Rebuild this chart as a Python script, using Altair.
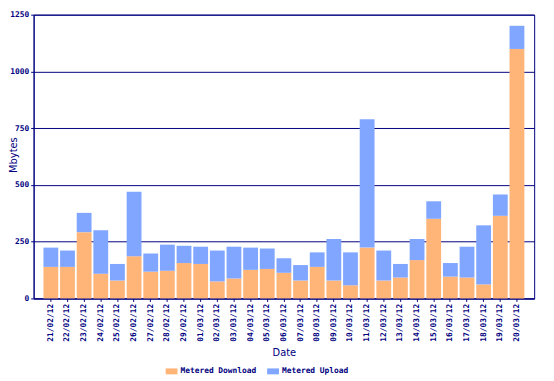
import altair as alt
import pandas as pd

dates = ["21/02/12", "22/02/12", "23/02/12", "24/02/12", "25/02/12", "26/02/12",
         "27/02/12", "28/02/12", "29/02/12", "01/03/12", "02/03/12", "03/03/12",
         "04/03/12", "05/03/12", "06/03/12", "07/03/12", "08/03/12", "09/03/12",
         "10/03/12", "11/03/12", "12/03/12", "13/03/12", "14/03/12", "15/03/12",
         "16/03/12", "17/03/12", "18/03/12", "19/03/12", "20/03/12"]
download = [139, 139, 292, 109, 79, 186, 118, 122, 156, 152, 75, 88, 126, 130, 113,
            79, 139, 79, 58, 224, 79, 92, 169, 351, 96, 92, 62, 364, 1099]
upload = [85, 72, 85, 191, 73, 284, 80, 115, 76, 76, 136, 140, 98, 90, 64,
          68, 64, 183, 145, 565, 132, 60, 93, 77, 60, 136, 260, 94, 102]
series = ["Metered Download", "Metered Upload"]
colors = ["#FFB478", "#80A6FF"]
y_ticks = [0, 250, 500, 750, 1000, 1250]

rows = []
for i, d in enumerate(dates):
    rows.append({"Date": d, "Series": series[0], "Mbytes": download[i], "ord": 0})
    rows.append({"Date": d, "Series": series[1], "Mbytes": upload[i], "ord": 1})
df = pd.DataFrame(rows)

NAVY = "#000080"
MONO = "DejaVu Sans Mono"

chart = alt.Chart(df).mark_bar().encode(
    x=alt.X("Date:N", sort=dates,
            scale=alt.Scale(paddingInner=0.11, paddingOuter=0.59),
            axis=alt.Axis(title="Date", labelAngle=270, labelFont=MONO, labelFontSize=8,
                          labelFontWeight="bold",
                          labelColor=NAVY, domainColor=NAVY, tickColor=NAVY, tickSize=3,
                          titleFont="DejaVu Sans", titleFontSize=10, titleFontWeight="normal",
                          titleColor=NAVY, titlePadding=6, labelPadding=2, grid=False)),
    y=alt.Y("Mbytes:Q", stack="zero",
            scale=alt.Scale(domain=[0, 1250], nice=False),
            axis=alt.Axis(title="Mbytes", values=y_ticks, format="d",
                          labelFont=MONO, labelFontSize=8, labelFontWeight="bold",
                          labelColor=NAVY,
                          domainColor=NAVY, tickColor=NAVY, tickSize=3,
                          gridColor=NAVY, gridWidth=1, gridOpacity=1,
                          titleFont="DejaVu Sans", titleFontSize=10, titleFontWeight="normal",
                          titleColor=NAVY, titleAngle=270, titleX=-17, titleY=142,
                          titleAlign="center", titleBaseline="alphabetic")),
    color=alt.Color("Series:N", scale=alt.Scale(domain=series, range=colors),
                    legend=alt.Legend(title=None, orient="none", direction="horizontal",
                                      legendX=134, legendY=356,
                                      symbolType="M-1,-0.5H1V0.5H-1Z", symbolSize=144,
                                      symbolStrokeWidth=0, symbolOpacity=1,
                                      labelFont=MONO, labelFontSize=8, labelFontWeight="bold",
                                      labelColor=NAVY,
                                      columnPadding=10, labelOffset=3)),
    order=alt.Order("ord:Q"),
).properties(
    width=508, height=288,
    autosize=alt.AutoSizeParams(type="none"),
    padding={"left": 26, "top": 4, "right": 12, "bottom": 81},
).configure_view(stroke=NAVY, strokeWidth=1)

chart.save("out.html", embed_options={"renderer": "svg", "actions": False})
